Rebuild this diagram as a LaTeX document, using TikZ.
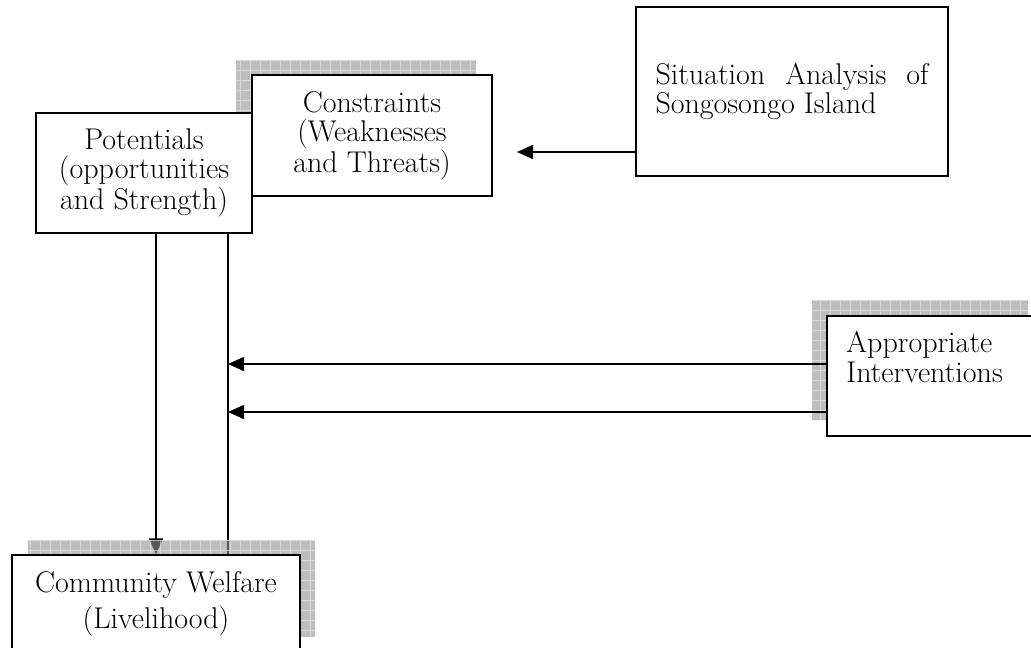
\documentclass[tikz,border=0pt]{standalone}
\usepackage{fontspec}
\usepackage{tikz}
\usetikzlibrary{arrows.meta,positioning}

\newcommand{\gridshadow}[2]{%
  \fill[gray!85,opacity=0.6] #1 rectangle #2;
  \draw[gray!15,line width=0.8pt,step=10pt,opacity=0.6] #1 grid #2;}

\begin{document}
\begin{tikzpicture}[x=1pt,y=-1pt,>={Triangle[length=16pt,width=14pt]},
    box/.style={draw,fill=white,line width=1.5pt,align=center,inner sep=0pt,
      font=\fontsize{30}{29}\selectfont},
    txt/.style={inner sep=0pt,align=left,font=\fontsize{30}{30}\selectfont},
    conn/.style={line width=1.5pt}]
    \useasboundingbox (0,0) rectangle (1031,648);
    % boxes
    \node[box,minimum width=216,minimum height=120] (pot) at (144,173)
      {Potentials\\(opportunities\\and Strength)};
    \node[box,minimum width=288,minimum height=97] (com) at (156,603.5)
      {Community Welfare\\[7pt](Livelihood)};
    % vertical links, partly under the shadow
    \draw[conn,->] (pot.south -| 156,0) -- (com.north -| 156,0);
    \draw[conn] (pot.south -| 228,0) -- (com.north -| 228,0);
    % shadows
    \gridshadow{(236,60)}{(476,181)}
    \gridshadow{(28,540)}{(315,637)}
    \gridshadow{(812,300)}{(1028,420)}
    \node[box,minimum width=216,minimum height=120] at (144,173)
      {Potentials\\(opportunities\\and Strength)};
    \node[box,minimum width=288,minimum height=97] at (156,603.5)
      {Community Welfare\\[7pt](Livelihood)};
    \node[box,minimum width=240,minimum height=121] (con) at (372,135.5)
      {Constraints\\(Weaknesses\\and Threats)};
    \node[box,minimum width=312,minimum height=169,text width=273,align=justify] (sit) at (792,91.5)
      {Situation Analysis of Songosongo Island};
    \node[box,minimum width=216,minimum height=120] (app) at (935,376) {};
    \node[txt,below right=16pt and 20pt of app.north west] (apptxt)
      {Appropriate\\Interventions};
    % links
    \coordinate (tip1) at (517,152);
    \coordinate (j1) at (228,364);
    \coordinate (j2) at (228,412);
    \draw[conn,->] (sit.west |- tip1) -- (tip1);
    \draw[conn,->] (app.west |- j1) -- (j1);
    \draw[conn,->] (app.west |- j2) -- (j2);
\end{tikzpicture}
\end{document}
